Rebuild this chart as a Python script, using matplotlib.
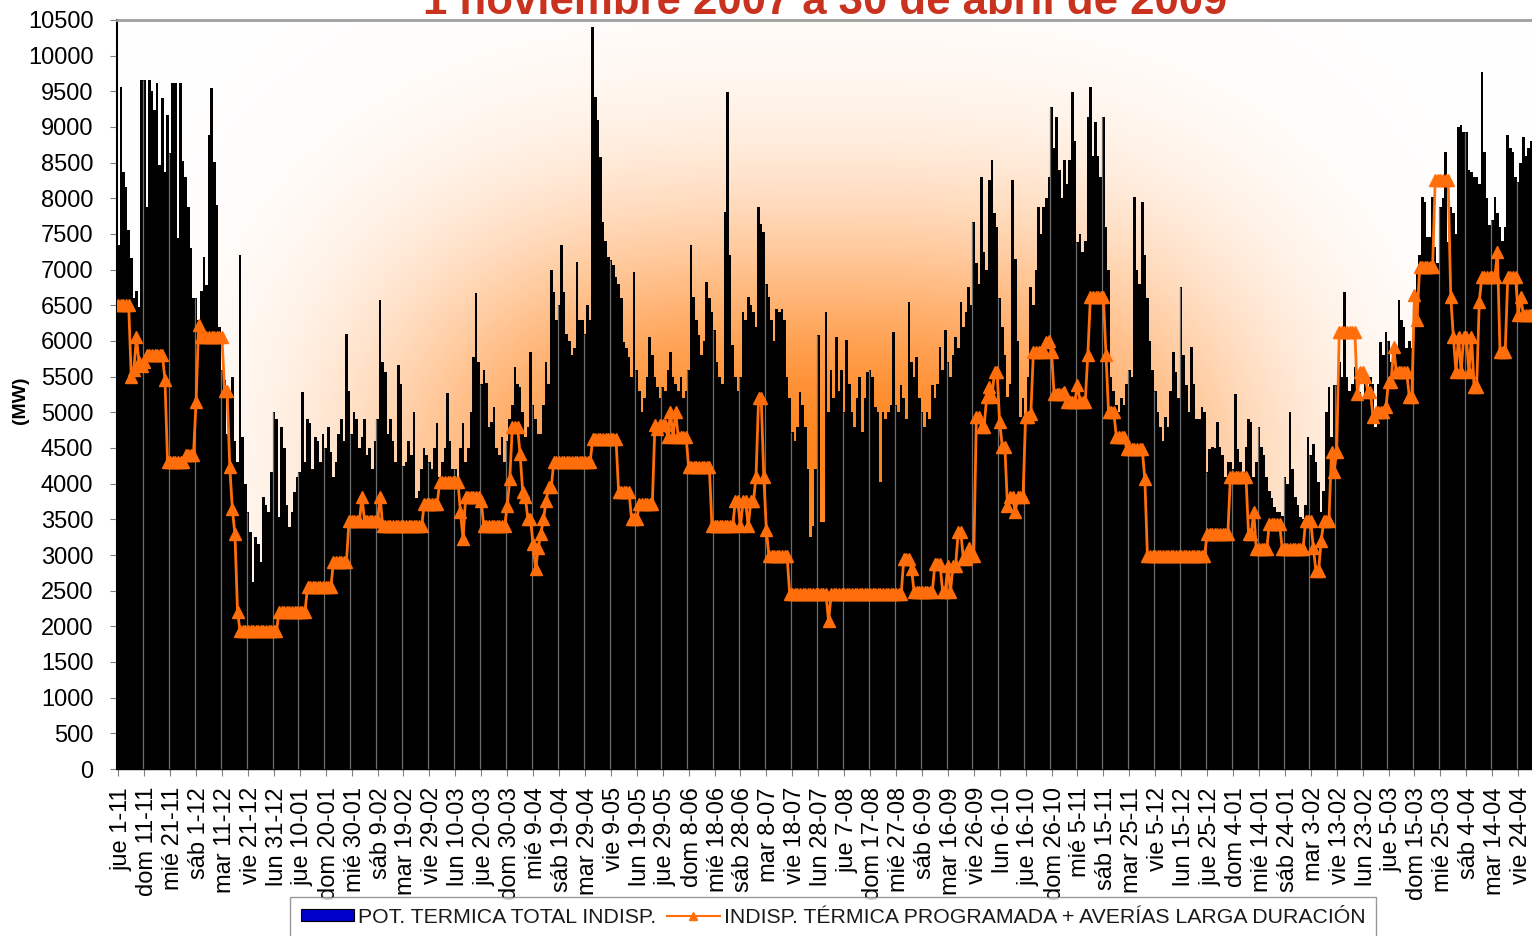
import numpy as np
import matplotlib.pyplot as plt
from matplotlib.patches import Patch
from matplotlib.lines import Line2D
from matplotlib.transforms import ScaledTranslation

plt.rcParams['font.family'] = ['Liberation Sans', 'DejaVu Sans']

# daily values, 1 Nov 2007 .. 30 Apr 2009 (MW), one line per 10 days
pot_total = [
    7350, 9560, 8370, 8160, 7560, 7160, 6600, 6700, 6470, 9660,
    9660, 7880, 9660, 9500, 9240, 9610, 8470, 9400, 8370, 9170,
    8630, 9610, 9610, 7440, 9610, 8530, 8300, 7880, 7300, 6600,
    6600, 6300, 6700, 7180, 6780, 8890, 9540, 8510, 7900, 6200,
    5600, 5450, 4700, 5300, 5500, 4600, 4300, 7200, 4650, 3990,
    3600, 3320, 2620, 3250, 3150, 2900, 3810, 3700, 3600, 4160,
    5000, 4900, 3530, 4790, 4500, 3700, 3390, 3600, 3880, 4100,
    4160, 5280, 4300, 4900, 4850, 4200, 4650, 4600, 4300, 4700,
    4500, 4800, 4440, 4100, 4300, 4700, 4900, 4600, 6100, 5300,
    4700, 5000, 4900, 4500, 4650, 4900, 4400, 4500, 4200, 4600,
    4900, 6580, 5700, 5560, 4700, 4900, 4600, 4300, 5660, 5400,
    4250, 4300, 4600, 4400, 5000, 3800, 3900, 4200, 4500, 4400,
    4300, 4200, 4500, 4850, 4100, 4300, 4500, 5270, 4600, 4200,
    4200, 4000, 4500, 4850, 4300, 4500, 5000, 5770, 6670, 5700,
    5400, 5600, 5410, 4800, 4860, 5075, 4500, 4400, 4650, 4300,
    4600, 4900, 5100, 5630, 5400, 5350, 5000, 4650, 4800, 5850,
    5100, 4900, 4690, 4700, 5100, 5700, 5400, 7000, 6685, 6300,
    6500, 7350, 6685, 6100, 6000, 5800, 5900, 7105, 6300, 6300,
    6100, 6500, 6300, 10395, 9415, 9100, 8575, 7670, 7400, 7175,
    7140, 7070, 6900, 6800, 6600, 5985, 5900, 5775, 5500, 6965,
    5600, 5300, 5000, 5200, 5500, 6055, 5800, 5500, 5350, 5200,
    5350, 5300, 5600, 5845, 5500, 5400, 5300, 5500, 5200, 5300,
    5600, 7350, 6615, 6300, 6090, 5800, 6000, 6825, 6600, 6400,
    6160, 5700, 5500, 5400, 7810, 9485, 7200, 5950, 5500, 5300,
    5500, 6400, 6300, 6615, 6500, 6400, 6200, 7880, 7640, 7525,
    6800, 6615, 6300, 6000, 6450, 6400, 6450, 6300, 5500, 5200,
    4720, 4600, 4800, 5280, 5100, 4800, 4200, 3255, 3400, 4200,
    6090, 3465, 3465, 6400, 5000, 5600, 5200, 6055, 5300, 5600,
    5000, 6020, 5400, 5000, 4800, 5200, 5500, 4725, 5200, 5565,
    5600, 5500, 5075, 5000, 4025, 5000, 4900, 5000, 5100, 6125,
    5100, 5000, 5390, 5200, 4900, 6545, 5700, 5500, 5775, 5200,
    5000, 4800, 5005, 4900, 5390, 5200, 5400, 5915, 5600, 6160,
    5700, 5500, 5800, 6055, 5900, 6545, 6200, 6400, 6750, 6500,
    7665, 7100, 6800, 8295, 7250, 7000, 8260, 8540, 7800, 7600,
    6600, 6200, 5800, 5215, 5400, 8260, 7150, 6000, 4935, 5200,
    4970, 5500, 6755, 6500, 7000, 7875, 7500, 7875, 8000, 8300,
    9275, 8700, 9135, 8400, 8000, 8540, 8200, 8540, 9485, 8800,
    7385, 7500, 7250, 7400, 9135, 9555, 8600, 9065, 8600, 8300,
    9135, 7595, 7000, 5495, 5300, 5100, 5000, 5200, 5100, 5400,
    5600, 5500, 8015, 7000, 6800, 7945, 7200, 6600, 6000, 5600,
    5300, 5000, 4795, 4600, 4935, 4800, 5300, 5845, 5565, 5200,
    6755, 5800, 5390, 5000, 5915, 5400, 4900, 4900, 5075, 5000,
    4165, 4480, 4515, 4500, 4865, 4515, 4400, 4100, 4300, 4300,
    4200, 5250, 4480, 4300, 4165, 4515, 4900, 4865, 4095, 4300,
    4795, 4515, 4400, 4095, 3900, 3800, 3675, 3600, 3600, 3550,
    4095, 4000, 5005, 4200, 3815, 3700, 3535, 3500, 3700, 4655,
    4400, 4550, 4300, 4025, 3600, 3900, 5005, 5355, 4655, 5390,
    5390, 5705, 5500, 6685, 5500, 5300, 5400, 5635, 5400, 5285,
    5200, 5425, 5300, 5500, 5400, 4795, 5400, 5985, 5800, 6125,
    6000, 5705, 5800, 5915, 6580, 6300, 6200, 5900, 6000, 5900,
    6500, 7000, 7200, 8015, 7945, 7455, 7455, 8015, 7315, 7100,
    7875, 8000, 8645, 7385, 7875, 7800, 7500, 8995, 9030, 8925,
    8925, 8400, 8365, 8300, 8295, 8200, 9765, 8645, 8000, 7630,
    7700, 8015, 7800, 7595, 7400, 7600, 8890, 8700, 8645, 8300,
    8225, 8500, 8855, 8600, 8700, 8800, 8600,
]

indisp_prog = [
    6500, 6500, 6500, 6500, 6500, 5500, 5600, 6050, 5700, 5650,
    5700, 5800, 5800, 5800, 5800, 5800, 5800, 5800, 5460, 4300,
    4300, 4300, 4300, 4300, 4300, 4300, 4400, 4400, 4400, 4400,
    5150, 6230, 6050, 6050, 6050, 6050, 6050, 6050, 6050, 6050,
    6050, 5300, 5300, 4240, 3640, 3290, 2200, 1930, 1930, 1930,
    1930, 1930, 1930, 1930, 1930, 1930, 1930, 1930, 1930, 1930,
    1930, 1930, 2200, 2200, 2200, 2200, 2200, 2200, 2200, 2200,
    2200, 2200, 2200, 2550, 2550, 2550, 2550, 2550, 2550, 2550,
    2550, 2550, 2550, 2900, 2900, 2900, 2900, 2900, 2900, 3470,
    3470, 3470, 3470, 3470, 3820, 3470, 3470, 3470, 3470, 3470,
    3470, 3820, 3400, 3400, 3400, 3400, 3400, 3400, 3400, 3400,
    3400, 3400, 3400, 3400, 3400, 3400, 3400, 3400, 3710, 3710,
    3710, 3710, 3710, 3710, 4030, 4030, 4030, 4030, 4030, 4030,
    4030, 4030, 3600, 3220, 3820, 3820, 3820, 3820, 3820, 3820,
    3750, 3400, 3400, 3400, 3400, 3400, 3400, 3400, 3400, 3400,
    3680, 4060, 4800, 4800, 4800, 4410, 3890, 3820, 3500, 3500,
    3150, 2800, 3100, 3300, 3500, 3750, 3950, 3950, 4300, 4300,
    4300, 4300, 4300, 4300, 4300, 4300, 4300, 4300, 4300, 4300,
    4300, 4300, 4300, 4620, 4620, 4620, 4620, 4620, 4620, 4620,
    4620, 4620, 4620, 3890, 3890, 3890, 3890, 3890, 3500, 3500,
    3500, 3710, 3710, 3710, 3710, 3710, 3710, 4820, 4760, 4820,
    4820, 4820, 4650, 5000, 4660, 5000, 4660, 4660, 4660, 4660,
    4240, 4240, 4240, 4240, 4240, 4240, 4240, 4240, 4240, 3400,
    3400, 3400, 3400, 3400, 3400, 3400, 3400, 3400, 3750, 3750,
    3400, 3750, 3750, 3400, 3750, 3750, 4100, 5200, 5200, 4100,
    3350, 2980, 2980, 2980, 2980, 2980, 2980, 2980, 2980, 2450,
    2450, 2450, 2450, 2450, 2450, 2450, 2450, 2450, 2450, 2450,
    2450, 2450, 2450, 2450, 2070, 2450, 2450, 2450, 2450, 2450,
    2450, 2450, 2450, 2450, 2450, 2450, 2450, 2450, 2450, 2450,
    2450, 2450, 2450, 2450, 2450, 2450, 2450, 2450, 2450, 2450,
    2450, 2450, 2450, 2940, 2940, 2940, 2800, 2480, 2480, 2480,
    2480, 2480, 2480, 2480, 2480, 2870, 2870, 2870, 2480, 2480,
    2850, 2480, 2850, 2850, 3320, 3320, 2940, 2940, 3100, 2980,
    2980, 4930, 4930, 4800, 4800, 5220, 5350, 5220, 5560, 5560,
    4860, 4520, 4520, 3680, 3820, 3820, 3600, 3820, 3820, 3820,
    4930, 4930, 4970, 5840, 5840, 5840, 5840, 5840, 5990, 6000,
    5840, 5250, 5250, 5250, 5250, 5290, 5150, 5150, 5150, 5150,
    5390, 5150, 5150, 5150, 5810, 6620, 6620, 6620, 6620, 6620,
    6620, 5810, 5000, 5000, 5000, 4660, 4660, 4660, 4660, 4480,
    4480, 4480, 4480, 4480, 4480, 4480, 4060, 2980, 2980, 2980,
    2980, 2980, 2980, 2980, 2980, 2980, 2980, 2980, 2980, 2980,
    2980, 2980, 2980, 2980, 2980, 2980, 2980, 2980, 2980, 2980,
    3290, 3290, 3290, 3290, 3290, 3290, 3290, 3290, 3290, 4100,
    4100, 4100, 4100, 4100, 4100, 4100, 3290, 3290, 3600, 3080,
    3080, 3080, 3080, 3080, 3430, 3430, 3430, 3430, 3430, 3080,
    3080, 3080, 3080, 3080, 3080, 3080, 3080, 3080, 3470, 3470,
    3470, 3100, 2770, 2770, 3200, 3470, 3470, 3470, 4450, 4170,
    4450, 6130, 6130, 6130, 6130, 6130, 6130, 6130, 5250, 5560,
    5560, 5500, 5290, 5290, 4940, 5000, 5000, 5000, 5000, 5080,
    5430, 5430, 5920, 5560, 5560, 5560, 5560, 5560, 5220, 5220,
    6650, 6300, 7040, 7040, 7040, 7040, 7040, 7040, 8260, 8260,
    8260, 8260, 8260, 8260, 6620, 6060, 5570, 6060, 5570, 6060,
    6060, 5570, 6060, 5360, 5360, 6550, 6900, 6900, 6900, 6900,
    6900, 6900, 7250, 5850, 5850, 5850, 6900, 6900, 6900, 6900,
    6370, 6620, 6370, 6370, 6370, 6370, 6370,
]

tick_labels = [
    'jue 1-11', 'dom 11-11', 'mié 21-11', 'sáb 1-12', 'mar 11-12',
    'vie 21-12', 'lun 31-12', 'jue 10-01', 'dom 20-01', 'mié 30-01',
    'sáb 9-02', 'mar 19-02', 'vie 29-02', 'lun 10-03', 'jue 20-03',
    'dom 30-03', 'mié 9-04', 'sáb 19-04', 'mar 29-04', 'vie 9-05',
    'lun 19-05', 'jue 29-05', 'dom 8-06', 'mié 18-06', 'sáb 28-06',
    'mar 8-07', 'vie 18-07', 'lun 28-07', 'jue 7-08', 'dom 17-08',
    'mié 27-08', 'sáb 6-09', 'mar 16-09', 'vie 26-09', 'lun 6-10',
    'jue 16-10', 'dom 26-10', 'mié 5-11', 'sáb 15-11', 'mar 25-11',
    'vie 5-12', 'lun 15-12', 'jue 25-12', 'dom 4-01', 'mié 14-01',
    'sáb 24-01', 'mar 3-02', 'vie 13-02', 'lun 23-02', 'jue 5-03',
    'dom 15-03', 'mié 25-03', 'sáb 4-04', 'mar 14-04', 'vie 24-04',
]

days = np.arange(len(pot_total))
tick_pos = np.arange(len(tick_labels)) * 10
orange = '#FF6E0A'

fig = plt.figure(figsize=(15.32, 9.36), dpi=100)
# plot area runs a few pixels past the right edge, like the cropped original
ax = fig.add_axes([117 / 1532, 1 - 769 / 936, 1418 / 1532, 749 / 936])
ax.set_xlim(-0.5, len(days) - 0.5)
ax.set_ylim(0, 10500)

# soft orange glow behind the bars, fading to white at the edges
gx, gy = np.meshgrid(np.linspace(0, 1, 600), np.linspace(0, 1, 400))
f = np.exp(-np.abs((gx - 0.49) / 0.295) ** 3 - ((gy - 0.40) / 0.32) ** 2)
peak = np.array([255, 132, 28]) / 255
img = 1 - f[..., None] * (1 - peak)
ax.imshow(img, extent=[-0.5, len(days) - 0.5, 0, 10500], origin='lower',
          aspect='auto', zorder=0, interpolation='bilinear')

ax.bar(days, pot_total, width=1.0, color='#000000', linewidth=0,
       antialiased=False, zorder=2)
sep = tick_pos[1:]
ax.vlines(sep - 0.5, 0, np.array(pot_total)[sep], colors='#6e6e6e',
          linewidth=0.9, zorder=3)

ax.plot(days, indisp_prog, color=orange, lw=2, marker='^', ms=8,
        mec=orange, mfc=orange, zorder=4)

ax.set_yticks(np.arange(0, 10501, 500))
ax.tick_params(axis='y', direction='out', length=5, color='#808080',
               labelsize=17, pad=12)
ax.set_xticks(tick_pos)
ax.set_xticklabels(tick_labels, rotation=90, fontsize=17)
ax.tick_params(axis='x', direction='out', length=5, color='#808080', pad=8)
shift = ScaledTranslation(3 / 100, 0, fig.dpi_scale_trans)
for lab in ax.get_xticklabels():
    lab.set_transform(lab.get_transform() + shift)

ax.spines['top'].set_color('#a0a0a0')
ax.spines['top'].set_linewidth(2)
ax.spines['right'].set_visible(False)
ax.spines['left'].set_linewidth(1.5)
ax.spines['bottom'].set_linewidth(1)

# the original is cropped through the title line
fig.text(825 / 1532, 1 - 14 / 936, '1 noviembre 2007 a 30 de abril de 2009',
         ha='center', va='baseline', fontsize=31.5, fontweight='bold',
         color='#C8321E')
fig.text(21 / 1532, 1 - 400 / 936, '(MW)', rotation=90, fontsize=14,
         fontweight='bold', ha='center', va='center')

handles = [Patch(facecolor='#0000CC', edgecolor='#000000', lw=0.8),
           Line2D([], [], color=orange, lw=1.5, marker='^', ms=6)]
labels = ['POT. TERMICA TOTAL INDISP.',
          'INDISP. TÉRMICA PROGRAMADA + AVERÍAS LARGA DURACIÓN']
leg = fig.legend(handles, labels, loc='upper left',
                 bbox_to_anchor=(290 / 1532, 1 - 897 / 936), ncol=2,
                 frameon=True, fancybox=False, edgecolor='#808080',
                 fontsize=15.3, handlelength=2.5, handleheight=0.5,
                 handletextpad=0.2, columnspacing=0.5, borderpad=0.5,
                 borderaxespad=0)
leg.get_frame().set_linewidth(1)
for t in leg.get_texts():
    t.set_color('#1a1a1a')

fig.savefig('out.png', dpi=100)
